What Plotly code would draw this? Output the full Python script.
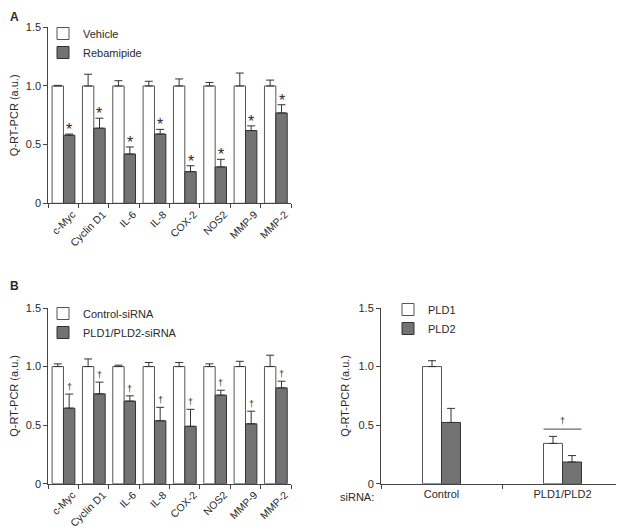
import plotly.graph_objects as go

# ---------------- data ----------------
genes = ["c-Myc", "Cyclin D1", "IL-6", "IL-8", "COX-2", "NOS2", "MMP-9", "MMP-2"]

# Panel A
vehicle = [1.0, 1.0, 1.0, 1.0, 1.0, 1.0, 1.0, 1.0]
vehicle_err = [0.005, 0.10, 0.045, 0.04, 0.06, 0.03, 0.11, 0.05]
rebamipide = [0.58, 0.64, 0.42, 0.59, 0.27, 0.31, 0.62, 0.77]
rebamipide_err = [0.01, 0.085, 0.06, 0.04, 0.05, 0.065, 0.04, 0.07]

# Panel B left
ctrl_sirna = [1.0, 1.0, 1.0, 1.0, 1.0, 1.0, 1.0, 1.0]
ctrl_sirna_err = [0.023, 0.065, 0.012, 0.035, 0.035, 0.023, 0.045, 0.097]
pld_sirna = [0.645, 0.767, 0.705, 0.537, 0.49, 0.756, 0.511, 0.818]
pld_sirna_err = [0.12, 0.10, 0.045, 0.115, 0.145, 0.042, 0.108, 0.057]

# Panel B right
sirna_groups = ["Control", "PLD1/PLD2"]
pld1 = [1.0, 0.344]
pld1_err = [0.05, 0.06]
pld2 = [0.523, 0.185]
pld2_err = [0.12, 0.055]
sig_bar_level = 0.466

y_ticks = [0, 0.5, 1.0, 1.5]
y_ticktext = ["0", "0.5", "1.0", "1.5"]

# ---------------- style ----------------
FONT = "Liberation Sans, Arial, sans-serif"
TXT = "#2a2a2a"
GREY = "#737373"
WHITE_LINE = "#555555"
GREY_LINE = "#333333"
W, H = 624, 528
PAGE_OFF = 8  # default page body margin


def fx(px):
    return max(px - PAGE_OFF, 0) / W


def fy(py):
    return 1 - max(py - PAGE_OFF, 0) / H


def err(vals):
    return dict(type="data", symmetric=False, array=vals, arrayminus=[0] * len(vals),
                color="#333333", thickness=1, width=4)


fig = go.Figure()

# Panel A
fig.add_trace(go.Bar(x=genes, y=vehicle, error_y=err(vehicle_err), name="Vehicle",
                     marker=dict(color="white", line=dict(color=WHITE_LINE, width=1)),
                     xaxis="x", yaxis="y", legend="legend"))
fig.add_trace(go.Bar(x=genes, y=rebamipide, error_y=err(rebamipide_err), name="Rebamipide",
                     marker=dict(color=GREY, line=dict(color=GREY_LINE, width=1)),
                     xaxis="x", yaxis="y", legend="legend"))

# Panel B left
fig.add_trace(go.Bar(x=genes, y=ctrl_sirna, error_y=err(ctrl_sirna_err), name="Control-siRNA",
                     marker=dict(color="white", line=dict(color=WHITE_LINE, width=1)),
                     xaxis="x2", yaxis="y2", legend="legend2"))
fig.add_trace(go.Bar(x=genes, y=pld_sirna, error_y=err(pld_sirna_err), name="PLD1/PLD2-siRNA",
                     marker=dict(color=GREY, line=dict(color=GREY_LINE, width=1)),
                     xaxis="x2", yaxis="y2", legend="legend2"))

# Panel B right
bw = 0.157
fig.add_trace(go.Bar(x=sirna_groups, y=pld1, error_y=err(pld1_err), name="PLD1",
                     width=[bw] * 2, offset=[-bw] * 2,
                     marker=dict(color="white", line=dict(color=WHITE_LINE, width=1)),
                     xaxis="x3", yaxis="y3", legend="legend3"))
fig.add_trace(go.Bar(x=sirna_groups, y=pld2, error_y=err(pld2_err), name="PLD2",
                     width=[bw] * 2, offset=[0] * 2,
                     marker=dict(color=GREY, line=dict(color=GREY_LINE, width=1)),
                     xaxis="x3", yaxis="y3", legend="legend3"))

annotations = []
shapes = []

# significance marks
for i, (v, e) in enumerate(zip(rebamipide, rebamipide_err)):
    annotations.append(dict(x=i + 0.1875, y=v + e, xref="x", yref="y", text="*",
                            showarrow=False, yanchor="bottom", yshift=-6,
                            font=dict(size=16, color=TXT, family=FONT)))
for i, (v, e) in enumerate(zip(pld_sirna, pld_sirna_err)):
    annotations.append(dict(x=i + 0.1875, y=v + e, xref="x2", yref="y2", text="†",
                            showarrow=False, yanchor="bottom", yshift=0,
                            font=dict(size=9, color=TXT, family=FONT)))

shapes.append(dict(type="line", xref="x3", yref="y3", x0=1 - bw, x1=1 + bw,
                   y0=sig_bar_level, y1=sig_bar_level, line=dict(color="#444444", width=1)))
annotations.append(dict(x=1, y=sig_bar_level, xref="x3", yref="y3", text="†",
                        showarrow=False, yanchor="bottom", yshift=1,
                        font=dict(size=9, color=TXT, family=FONT)))

# panel labels & extra text
annotations.append(dict(x=0, y=1, xref="paper", yref="paper", text="<b>A</b>",
                        showarrow=False, xanchor="left", yanchor="top",
                        font=dict(size=12, color=TXT, family=FONT)))
annotations.append(dict(x=0, y=fy(286), xref="paper", yref="paper", text="<b>B</b>",
                        showarrow=False, xanchor="left", yanchor="middle",
                        font=dict(size=12, color=TXT, family=FONT)))
annotations.append(dict(x=fx(376), y=fy(497), xref="paper", yref="paper", text="siRNA:",
                        showarrow=False, xanchor="right", yanchor="middle",
                        font=dict(size=11, color=TXT, family=FONT)))


def yaxis(domain, anchor):
    return dict(domain=domain, anchor=anchor, range=[0, 1.5], tickvals=y_ticks, ticktext=y_ticktext,
                showline=True, linecolor="#444444", linewidth=1, ticks="outside", ticklen=4,
                tickcolor="#444444", showgrid=False, zeroline=False, automargin=False,
                tickfont=dict(size=11, color=TXT, family=FONT),
                title=dict(text="Q-RT-PCR (a.u.)", standoff=6,
                           font=dict(size=11, color=TXT, family=FONT)))


def xaxis(domain, anchor, angle, shift, size=11):
    return dict(domain=domain, anchor=anchor, type="category", showline=True, linecolor="#444444",
                linewidth=1, ticks="outside", ticklen=4, tickcolor="#444444", tickson="boundaries",
                showgrid=False, tickangle=angle, automargin=False, ticklabelshift=shift,
                tickfont=dict(size=size, color=TXT, family=FONT))


xa = [fx(48.3), fx(291)]
xb = [fx(381), fx(623)]
ya = [fy(203.3), fy(27.3)]
yb = [fy(483.7), fy(308)]


def legend(x, y):
    return dict(x=x, y=y, xref="paper", yref="paper", xanchor="left", yanchor="top",
                bgcolor="rgba(0,0,0,0)", tracegroupgap=0, itemwidth=30,
                font=dict(size=11, color=TXT, family=FONT))


fig.update_layout(
    width=W, height=H,
    margin=dict(l=0, r=0, t=0, b=0, autoexpand=False),
    paper_bgcolor="white", plot_bgcolor="white",
    barmode="group", bargap=0.25, bargroupgap=0,
    font=dict(family=FONT, color=TXT),
    xaxis=xaxis(xa, "y", -45, 9, 10.5),
    yaxis=yaxis(ya, "x"),
    xaxis2=xaxis(xa, "y2", -45, 9, 10.5),
    yaxis2=yaxis(yb, "x2"),
    xaxis3=xaxis(xb, "y3", 0, 0),
    yaxis3=yaxis(yb, "x3"),
    legend=legend(fx(43), fy(19)),
    legend2=legend(fx(43), fy(299)),
    legend3=legend(fx(388), fy(295)),
    annotations=annotations,
    shapes=shapes,
)

fig.write_html("out.html")
